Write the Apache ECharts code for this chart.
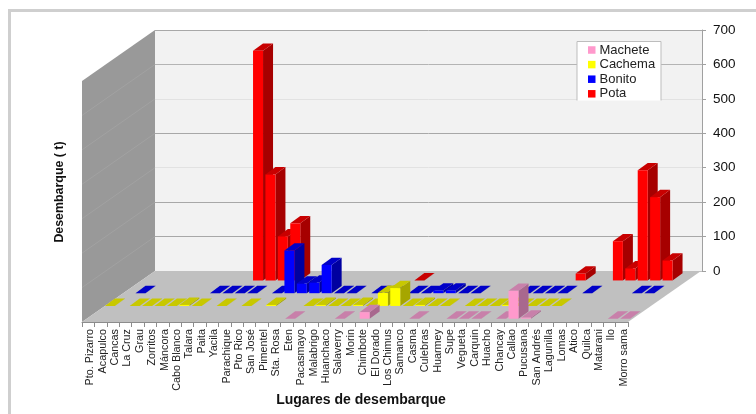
<!DOCTYPE html>
<html>
<head>
<meta charset="utf-8">
<style>
    html, body { margin: 0; padding: 0; background: #fff; }
    #chart { width: 756px; height: 414px; }
</style>
</head>
<body>
<div id="chart"></div>
<script src="https://cdn.jsdelivr.net/npm/echarts@6/dist/echarts.min.js"></script>
<script>
var categories = ['Pto. Pizarro', 'Acapulco', 'Cancas', 'La Cruz', 'Grau', 'Zorritos', 'Máncora', 'Cabo Blanco',
    'Talara', 'Paita', 'Yacila', 'Parachique', 'Pto Rico', 'San José', 'Pimentel', 'Sta. Rosa', 'Eten', 'Pacasmayo',
    'Malabrigo', 'Huanchaco', 'Salaverry', 'Morin', 'Chimbote', 'El Dorado', 'Los Chimus', 'Samanco', 'Casma',
    'Culebras', 'Huarmey', 'Supe', 'Vegueta', 'Carquin', 'Huacho', 'Chancay', 'Callao', 'Pucusana', 'San Andrés',
    'Lagunilla', 'Lomas', 'Atico', 'Quilca', 'Matarani', 'Ilo', 'Morro sama'];

// [posicion de categoria, desembarque]
var pota = [[9, 667], [10, 308], [11, 128], [12, 166], [22, 0.1], [35, 20], [38, 114], [39, 35], [40, 320], [41, 242], [42, 58]];
var bonito = [[1, 0.1], [7, 0.1], [8, 0.1], [9, 0.1], [10, 0.1], [12, 0.1], [13, 124], [14, 28], [15, 31], [16, 82],
    [17, 0.1], [18, 0.1], [20, 0.1], [21, 0.1], [23, 0.1], [24, 0.1], [25, 8], [26, 8], [27, 0.1], [28, 0.1],
    [32, 0.1], [33, 0.1], [34, 0.1], [35, 0.1], [37, 0.1], [41, 0.1], [42, 0.1]];
var cachema = [[0, 0.1], [2, 0.1], [3, 0.1], [4, 0.1], [5, 0.1], [6, 3], [7, 0.1], [9, 0.1], [11, 0.1], [13, 3],
    [16, 0.1], [17, 3], [18, 0.1], [19, 0.1], [20, 3], [21, 0.1], [22, 38], [23, 52], [24, 0.1], [25, 3], [26, 0.1],
    [27, 0.1], [29, 0.1], [30, 0.1], [31, 0.1], [32, 3], [33, 0.1], [34, 0.1], [35, 0.1], [36, 0.1]];
var machete = [[16, 0.1], [20, 0.1], [22, 19], [26, 0.1], [29, 0.1], [30, 0.1], [31, 0.1], [33, 0.1], [34, 81], [35, 3], [42, 0.1], [43, 0.1]];

var yMax = 700;
var yStep = 100;

// fondo del piso 3D: 4 filas, de delante hacia atras
var depthX = 73;
var depthY = 51;
var rowX = depthX / 4;
var rowY = depthY / 4;
var barW = 10;
var barDX = 10;
var barDY = 7.3;

function barRenderer(row, front, top, side) {
    return function (params, api) {
        var band = api.size([1, 0])[0];
        var base = api.coord([api.value(0), 0]);
        var head = api.coord([api.value(0), api.value(1)]);
        var x0 = base[0] - band / 2 + 4.6 + row * rowX;
        var x1 = x0 + barW;
        var y0 = base[1] - 3.3 - row * rowY;
        var y1 = head[1] - 3.3 - row * rowY;
        return {
            type: 'group',
            children: [
                { type: 'polygon', shape: { points: [[x1, y0], [x1 + barDX, y0 - barDY], [x1 + barDX, y1 - barDY], [x1, y1]] }, style: { fill: side } },
                { type: 'polygon', shape: { points: [[x0, y1], [x1, y1], [x1 + barDX, y1 - barDY], [x0 + barDX, y1 - barDY]] }, style: { fill: top } },
                { type: 'rect', shape: { x: x0, y: y1, width: barW, height: y0 - y1 }, style: { fill: front } }
            ]
        };
    };
}

// pared izquierda y piso, dibujados desde la escala del eje
function renderFrame(params, api) {
    var sys = params.coordSys;
    var left = sys.x;
    var right = sys.x + sys.width;
    var floorY = sys.y + sys.height;
    var children = [
        { type: 'polygon', shape: { points: [[left, sys.y], [left + depthX, sys.y - depthY], [left + depthX, floorY - depthY], [left, floorY]] }, style: { fill: '#999999' } },
        { type: 'polygon', shape: { points: [[left, floorY], [right, floorY], [right + depthX, floorY - depthY], [left + depthX, floorY - depthY]] }, style: { fill: '#c0c0c0' } }
    ];
    for (var v = yStep; v < yMax; v += yStep) {
        var y = api.coord([0, v])[1];
        children.push({
            type: 'line',
            shape: { x1: left, y1: y, x2: left + depthX, y2: y - depthY },
            style: { stroke: '#a2a2a2', lineWidth: 1 }
        });
    }
    return { type: 'group', children: children };
}

function barSeries(name, data, row, front, top, side) {
    return {
        name: name,
        type: 'custom',
        xAxisIndex: 0,
        yAxisIndex: 0,
        z: 3,
        silent: true,
        itemStyle: { color: front },
        renderItem: barRenderer(row, front, top, side),
        encode: { x: 0, y: 1 },
        data: data
    };
}

var chart = echarts.init(document.getElementById('chart'));
chart.setOption({
    animation: false,
    backgroundColor: '#fff',
    textStyle: { fontFamily: 'Liberation Sans' },
    grid: [
        { left: 82, top: 81, width: 546, height: 241, outerBoundsMode: 'none' },
        { left: 155, top: 30, width: 547, height: 241, outerBoundsMode: 'none', show: true, backgroundColor: '#f2f2f2', borderWidth: 0 }
    ],
    xAxis: [
        {
            type: 'category',
            gridIndex: 0,
            data: categories,
            name: 'Lugares de desembarque',
            nameLocation: 'middle',
            nameGap: 71,
            nameMoveOverlap: false,
            nameTextStyle: { fontSize: 14, fontWeight: 'bold', color: '#111', padding: [0, 0, 0, 12] },
            axisLine: { show: true, lineStyle: { color: '#8c8c8c' } },
            axisTick: { show: true, length: 5, lineStyle: { color: '#8c8c8c' } },
            axisLabel: { interval: 0, rotate: 90, margin: 7, fontSize: 10.8, color: '#222', verticalAlign: 'top', lineHeight: 4 }
        },
        { type: 'category', gridIndex: 1, data: categories, show: false }
    ],
    yAxis: [
        {
            type: 'value',
            gridIndex: 0,
            min: 0,
            max: yMax,
            interval: yStep,
            name: 'Desembarque ( t)',
            nameLocation: 'middle',
            nameGap: 16,
            nameMoveOverlap: false,
            nameTextStyle: { fontSize: 12.4, fontWeight: 'bold', color: '#111', padding: [0, 0, 0, 19] },
            axisLine: { show: false },
            axisTick: { show: false },
            axisLabel: { show: false },
            splitLine: { show: false }
        },
        {
            type: 'value',
            gridIndex: 1,
            position: 'right',
            min: 0,
            max: yMax,
            interval: yStep,
            axisLine: { show: true, lineStyle: { color: '#a0a0a0' } },
            axisTick: { show: true, length: 4, lineStyle: { color: '#a0a0a0' } },
            axisLabel: { margin: 11, fontSize: 13.5, color: '#111' },
            splitLine: {
                show: true,
                lineStyle: { color: ['#c0c0c0', '#a8a8a8', '#a8a8a8', '#e2e2e2', '#a8a8a8', '#e2e2e2', '#b4b4b4', '#a8a8a8'] }
            }
        }
    ],
    legend: {
        data: ['Machete', 'Cachema', 'Bonito', 'Pota'],
        orient: 'vertical',
        left: 588,
        top: 43,
        padding: 0,
        z: 10,
        icon: 'rect',
        itemWidth: 7.5,
        itemHeight: 7.5,
        itemGap: 0.6,
        selectedMode: false,
        textStyle: { fontSize: 13, color: '#222', padding: [0, 0, 0, -1], lineHeight: 14 }
    },
    graphic: [
        { type: 'rect', z: 5, silent: true, shape: { x: 577, y: 41, width: 84, height: 59.5 }, style: { fill: '#fff' } },
        { type: 'polyline', z: 6, silent: true, shape: { points: [[577, 100.5], [577, 41.5], [661, 41.5], [661, 100.5]] }, style: { fill: null, stroke: '#bdbdbd', lineWidth: 1 } },
        { type: 'polyline', z: 6, silent: true, shape: { points: [[9.5, 414], [9.5, 10.5], [756, 10.5]] }, style: { fill: null, stroke: '#cfcfcf', lineWidth: 3 } }
    ],
    series: [
        {
            name: 'frame',
            type: 'custom',
            xAxisIndex: 0,
            yAxisIndex: 0,
            z: 1,
            silent: true,
            renderItem: renderFrame,
            data: [[0, 0]]
        },
        barSeries('Pota', pota, 3, '#ff0000', '#c80000', '#a60000'),
        barSeries('Bonito', bonito, 2, '#0000ff', '#0000c8', '#0000a0'),
        barSeries('Cachema', cachema, 1, '#ffff00', '#c8c800', '#a6a600'),
        barSeries('Machete', machete, 0, '#ff99cc', '#c880aa', '#a8688e')
    ]
});
</script>
</body>
</html>
